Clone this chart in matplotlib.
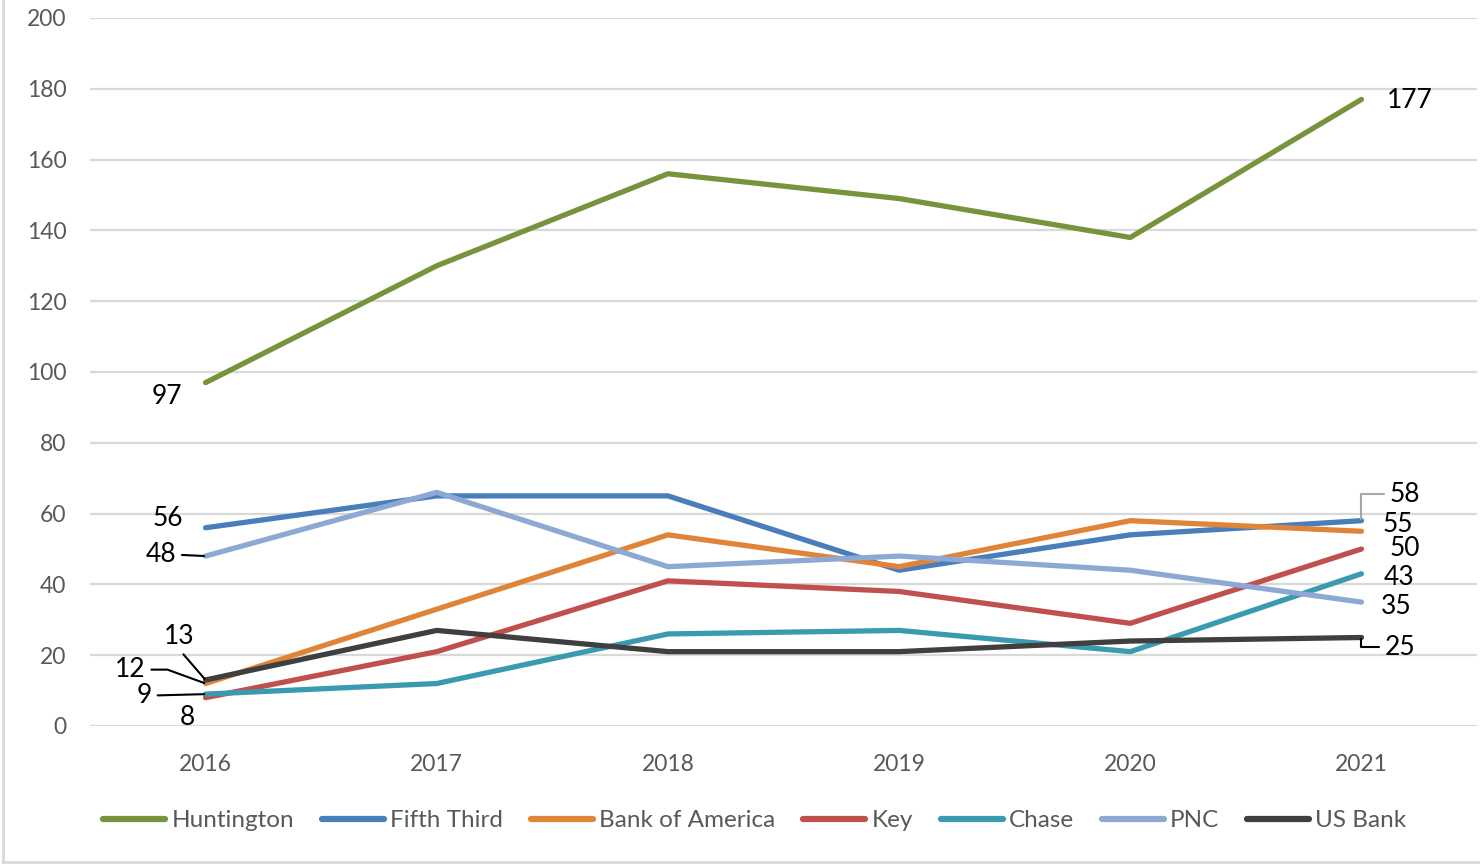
import matplotlib
matplotlib.use('Agg')
import matplotlib.pyplot as plt
from matplotlib.lines import Line2D

plt.rcParams['font.family'] = ['Lato', 'DejaVu Sans']

years = ['2016', '2017', '2018', '2019', '2020', '2021']
huntington = [97, 130, 156, 149, 138, 177]
fifth_third = [56, 65, 65, 44, 54, 58]
bank_of_america = [12, 33, 54, 45, 58, 55]
key = [8, 21, 41, 38, 29, 50]
chase = [9, 12, 26, 27, 21, 43]
pnc = [48, 66, 45, 48, 44, 35]
us_bank = [13, 27, 21, 21, 24, 25]

series = [
    ('Huntington', huntington, '#77933C'),
    ('Fifth Third', fifth_third, '#4A7EBB'),
    ('Bank of America', bank_of_america, '#DF8438'),
    ('Key', key, '#C0504D'),
    ('Chase', chase, '#3A9AB0'),
    ('PNC', pnc, '#8EA8D4'),
    ('US Bank', us_bank, '#3F3F3F'),
]

fig = plt.figure(figsize=(14.8, 8.65), dpi=100)
ax = fig.add_axes([0.0608, 0.1607, 0.9372, 0.8185])

x = list(range(len(years)))
for name, vals, col in series:
    ax.plot(x, vals, color=col, lw=3.8, label=name, solid_capstyle='round', zorder=3)

ax.set_xlim(-0.5, 5.5)
ax.set_ylim(0, 200)
ax.set_yticks(range(0, 201, 20))
ax.set_xticks(x)
ax.set_xticklabels(years)
ax.grid(axis='y', color='#D9D9D9', lw=1.6, zorder=0)
ax.set_axisbelow(True)
for s in ax.spines.values():
    s.set_visible(False)
ax.tick_params(length=0, labelsize=16.5, labelcolor='#595959')
ax.tick_params(axis='y', pad=17)
ax.tick_params(axis='x', pad=20)

# data labels, offsets in points from the point
def lab(vals, i, dx, dy, leader=None, lcol='black', relpos=(0.5, 0.5), cs='arc3'):
    kw = {}
    if leader:
        kw['arrowprops'] = dict(arrowstyle='-', color=lcol, lw=1.5, shrinkA=2, shrinkB=1,
                                relpos=relpos, connectionstyle=cs)
    ax.annotate(str(vals[i]), xy=(i, vals[i]), xytext=(dx, dy), textcoords='offset points',
                ha='center', va='center', fontsize=19, color='black', zorder=5, **kw)

lab(huntington, 0, -28, -10)
lab(fifth_third, 0, -27, 7)
lab(pnc, 0, -32, 1, leader=True, relpos=(1, 0.5))
lab(us_bank, 0, -19, 31, leader=True, relpos=(0.5, 0))
lab(bank_of_america, 0, -54, 10, leader=True, relpos=(1, 0.5),
    cs='angle,angleA=0,angleB=-20,rad=0')
lab(chase, 0, -44, -1, leader=True, relpos=(1, 0.5))
lab(key, 0, -13, -14)

lab(huntington, 5, 35, -1)
lab(fifth_third, 5, 31, 19, leader=True, lcol='#A6A6A6', relpos=(0, 0.5),
    cs='angle,angleA=0,angleB=90,rad=0')
lab(bank_of_america, 5, 26, 5)
lab(key, 5, 31, 0)
lab(chase, 5, 27, -3)
lab(pnc, 5, 25, -3)
lab(us_bank, 5, 28, -7, leader=True, relpos=(0, 0.5),
    cs='angle,angleA=0,angleB=90,rad=0')

leg = fig.legend(loc='center', bbox_to_anchor=(0.51, 0.051), ncol=7, frameon=False,
                 fontsize=17.5, handlelength=2.55, handletextpad=0.25, columnspacing=1.15)
for t in leg.get_texts():
    t.set_color('#595959')
for h in leg.legend_handles:
    h.set_linewidth(4.5)

# outer frame of the chart area
fig.add_artist(Line2D([0.002, 0.002], [0.003, 1.0], transform=fig.transFigure, color='#D9D9D9', lw=2))
fig.add_artist(Line2D([0.002, 1.0], [0.003, 0.003], transform=fig.transFigure, color='#D9D9D9', lw=2))

fig.savefig('out.png', dpi=100)
